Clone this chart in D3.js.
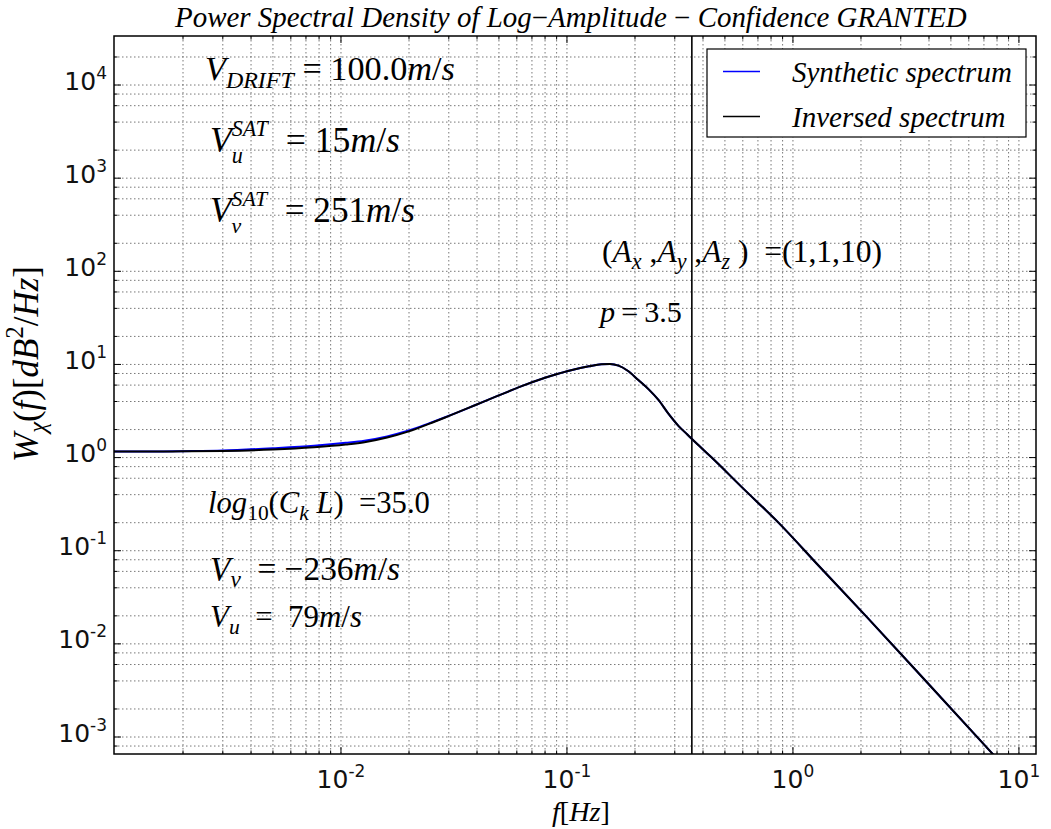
<!DOCTYPE html>
<html><head><meta charset="utf-8">
<script src="https://cdn.jsdelivr.net/npm/d3@7"></script>
<style>body{margin:0;background:#fff} svg{display:block}</style>
</head><body><svg id="c" width="1051" height="829"></svg>
<script>
// ---- data ----
const freq = [0.00099, 0.0015, 0.002, 0.003, 0.005, 0.0076, 0.0105, 0.0127, 0.016, 0.0198, 0.0245, 0.0297, 0.0394, 0.0496, 0.0626, 0.08, 0.101, 0.125, 0.142, 0.155, 0.169, 0.185, 0.207, 0.23, 0.254, 0.28, 0.312, 0.34, 0.371, 0.437, 0.6, 0.867, 1.3, 2.11, 4.0, 7.65, 12.0];
const synthetic = [1.16, 1.16, 1.17, 1.19, 1.26, 1.34, 1.44, 1.52, 1.69, 1.94, 2.33, 2.78, 3.67, 4.62, 5.81, 7.19, 8.51, 9.55, 10.05, 10.1, 9.7, 8.6, 6.8, 5.4, 4.16, 3.0, 2.18, 1.78, 1.45, 1.0, 0.47, 0.198, 0.069, 0.0197, 0.00366, 0.00066, 0.0002];
const inversed = [1.16, 1.16, 1.17, 1.18, 1.22, 1.29, 1.38, 1.46, 1.64, 1.90, 2.30, 2.77, 3.67, 4.62, 5.81, 7.19, 8.51, 9.55, 10.05, 10.1, 9.7, 8.6, 6.8, 5.4, 4.16, 3.0, 2.18, 1.78, 1.45, 1.0, 0.47, 0.198, 0.069, 0.0197, 0.00366, 0.00066, 0.0002];
const seriesNames = ["Synthetic spectrum", "Inversed spectrum"];
const seriesColors = ["#0000ff", "#000000"];
const cutoffFreq = 0.357;
const xTickValues = [1e-2, 1e-1, 1, 10];
const xTickBase = ["10", "10", "10", "10"];
const xTickExp = ["-2", "-1", "0", "1"];
const yTickValues = [1e-3, 1e-2, 1e-1, 1, 10, 100, 1000, 10000];
const yTickExp = ["-3", "-2", "-1", "0", "1", "2", "3", "4"];
const xMinorSubs = [2, 3, 4, 5, 6, 7, 8, 9];
const yMinorSubs = [2, 4, 6, 8];

// ---- layout ----
const L = 114, R = 1036, T = 36, B = 754;
const svg = d3.select("#c");
const x = d3.scaleLog().domain([9.9e-4, 11.9]).range([L, R]);
const y = d3.scaleLog().domain([6.57e-4, 3.36e4]).range([B, T]);

function minorTicks(scale, subs) {
  const [a, b] = scale.domain();
  const out = [];
  for (let e = Math.floor(Math.log10(a)); e <= Math.ceil(Math.log10(b)); e++) {
    subs.forEach(s => { const v = s * Math.pow(10, e); if (v > a && v < b) out.push(v); });
  }
  return out;
}
const xMinor = minorTicks(x, xMinorSubs);
const yMinor = minorTicks(y, yMinorSubs);

// grid
const grid = svg.append("g").attr("stroke", "#555").attr("stroke-width", 0.8).attr("stroke-dasharray", "1.5,2.5");
xTickValues.concat(xMinor).forEach(v => grid.append("line").attr("x1", x(v)).attr("x2", x(v)).attr("y1", T).attr("y2", B));
yTickValues.concat(yMinor).forEach(v => grid.append("line").attr("y1", y(v)).attr("y2", y(v)).attr("x1", L).attr("x2", R));

// clip
svg.append("clipPath").attr("id", "clip").append("rect").attr("x", L).attr("y", T).attr("width", R - L).attr("height", B - T);

// vertical cutoff line
svg.append("line").attr("x1", x(cutoffFreq)).attr("x2", x(cutoffFreq)).attr("y1", T).attr("y2", B)
  .attr("stroke", "#000").attr("stroke-width", 1.6);

// series
const line = d3.line().x(d => x(d[0])).y(d => y(d[1])).curve(d3.curveMonotoneX);
[synthetic, inversed].forEach((vals, i) => {
  svg.append("path").attr("clip-path", "url(#clip)")
    .attr("d", line(freq.map((f, j) => [f, vals[j]])))
    .attr("fill", "none").attr("stroke", seriesColors[i]).attr("stroke-width", 2);
});

// axes: ticks inward on all sides
const tk = svg.append("g").attr("stroke", "#000").attr("stroke-width", 1);
function xt(v, len) {
  tk.append("line").attr("x1", x(v)).attr("x2", x(v)).attr("y1", B).attr("y2", B - len);
  tk.append("line").attr("x1", x(v)).attr("x2", x(v)).attr("y1", T).attr("y2", T + len);
}
function yt(v, len) {
  tk.append("line").attr("y1", y(v)).attr("y2", y(v)).attr("x1", L).attr("x2", L + len);
  tk.append("line").attr("y1", y(v)).attr("y2", y(v)).attr("x1", R).attr("x2", R - len);
}
xTickValues.forEach(v => xt(v, 7)); xMinor.forEach(v => xt(v, 3.5));
yTickValues.forEach(v => yt(v, 7)); yMinor.forEach(v => yt(v, 3.5));
svg.append("rect").attr("x", L).attr("y", T).attr("width", R - L).attr("height", B - T)
  .attr("fill", "none").attr("stroke", "#000").attr("stroke-width", 1.5);

// tick labels
const TF = "'DejaVu Sans', sans-serif";
xTickValues.forEach((v, i) => {
  const t = svg.append("text").attr("x", x(v)).attr("y", 788).attr("text-anchor", "middle")
    .attr("font-family", TF).attr("font-size", 25).attr("fill", "#111");
  t.append("tspan").text(xTickBase[i]);
  t.append("tspan").attr("font-size", 17).attr("dy", -11).text(xTickExp[i]);
});
yTickValues.forEach((v, i) => {
  const t = svg.append("text").attr("x", 107).attr("y", y(v) + 4.5).attr("text-anchor", "end")
    .attr("font-family", TF).attr("font-size", 25).attr("fill", "#111");
  t.append("tspan").text("10");
  t.append("tspan").attr("font-size", 17).attr("dy", -11).text(yTickExp[i]);
});

// math-like text helper
const MF = "'Liberation Serif', 'Times New Roman', serif";
function layout(g, parts, size) {
  let cx = 0, stackW = 0;
  parts.forEach(p => {
    const fs = size * (p.s || 1);
    const t = g.append("text").attr("x", cx).attr("y", -(p.up || 0) * size)
      .attr("font-family", MF).attr("font-style", p.r ? "normal" : "italic")
      .attr("font-size", fs).attr("fill", "#000").text(p.t);
    const w = t.node().getComputedTextLength();
    if (p.stack) stackW = Math.max(stackW, w);
    else { cx += Math.max(w, stackW); stackW = 0; }
  });
  return cx;
}
function mtext(x0, y0, parts, size, targetW, rotate) {
  const g = svg.append("g").attr("transform", `translate(${x0},${y0})` + (rotate ? " rotate(-90)" : ""));
  let w = layout(g, parts, size);
  if (targetW) {
    g.selectAll("*").remove();
    size = size * targetW / w;
    layout(g, parts, size);
  }
  return size;
}
const S = 0.7, SUB = -0.22, SUP = 0.42, NB = "\u00a0", TH = "\u2009";
const sub = t => ({ t, s: S, up: SUB });
const subr = t => ({ t, s: S, up: SUB, r: 1 });
// stacked super/subscript pair (kept apart so their boxes do not collide)
const supS = t => ({ t, s: 0.62, up: 0.46, stack: 1 });
const subS = t => ({ t, s: 0.62, up: -0.3 });

// title
mtext(175, 27, [{ t: "Power Spectral Density of Log" }, { t: "\u2212", r: 1 }, { t: "Amplitude" },
  { t: NB + "\u2212" + NB, r: 1 }, { t: "Confidence GRANTED" }], 20, 792);

// annotations
mtext(205, 80, [{ t: "V" }, sub("DRIFT"), { t: NB + "=" + NB + "100.0", r: 1 }, { t: "m" }, { t: "/", r: 1 }, { t: "s" }], 32, 250);
mtext(210, 152, [{ t: "V" }, supS("SAT"), subS("u"), { t: NB + NB + "=" + NB + "15", r: 1 }, { t: "m" }, { t: "/", r: 1 }, { t: "s" }], 32, 190);
mtext(210, 222, [{ t: "V" }, supS("SAT"), subS("v"), { t: NB + NB + "=" + NB + "251", r: 1 }, { t: "m" }, { t: "/", r: 1 }, { t: "s" }], 32, 205);
mtext(602, 262, [{ t: "(", r: 1 }, { t: "A" }, sub("x"), { t: NB + ",", r: 1 }, { t: "A" }, sub("y"), { t: NB + ",", r: 1 }, { t: "A" }, sub("z"),
  { t: NB + ")" + NB + NB + "=(1,1,10)", r: 1 }], 32, 280);
mtext(600, 322, [{ t: "p" }, { t: TH + "=" + TH + "3.5", r: 1 }], 32, 82);
mtext(208, 513, [{ t: "log" }, subr("10"), { t: "(", r: 1 }, { t: "C" }, sub("k"), { t: NB + "L" }, { t: ")" + NB + NB + "=35.0", r: 1 }], 32, 222);
mtext(210, 580, [{ t: "V" }, sub("v"), { t: NB + NB + "=" + NB + "\u2212236", r: 1 }, { t: "m" }, { t: "/", r: 1 }, { t: "s" }], 32, 190);
mtext(210, 627, [{ t: "V" }, sub("u"), { t: NB + NB + "=" + NB + NB + "79", r: 1 }, { t: "m" }, { t: "/", r: 1 }, { t: "s" }], 32, 152);

// axis labels
mtext(552, 821, [{ t: "f" }, { t: "[", r: 1 }, { t: "Hz" }, { t: "]", r: 1 }], 28, 58);
mtext(38, 462, [{ t: "W" }, sub("\u03c7"), { t: "(", r: 1 }, { t: "f" }, { t: ")[", r: 1 }, { t: "dB" },
  { t: "2", s: S, up: SUP, r: 1 }, { t: "/", r: 1 }, { t: "Hz" }, { t: "]", r: 1 }], 28, 196, true);

// legend
svg.append("rect").attr("x", 707).attr("y", 49).attr("width", 319).attr("height", 88)
  .attr("fill", "#fff").attr("stroke", "#000").attr("stroke-width", 1.2);
const legY = [71.5, 116.5];
let legSize = null;
seriesNames.forEach((n, i) => {
  svg.append("line").attr("x1", 723).attr("x2", 760).attr("y1", legY[i]).attr("y2", legY[i])
    .attr("stroke", seriesColors[i]).attr("stroke-width", 1.5);
  if (legSize === null) legSize = mtext(792, legY[i] + 10, [{ t: n }], 26, 220);
  else mtext(792, legY[i] + 10, [{ t: n }], legSize, null);
});
</script></body></html>
